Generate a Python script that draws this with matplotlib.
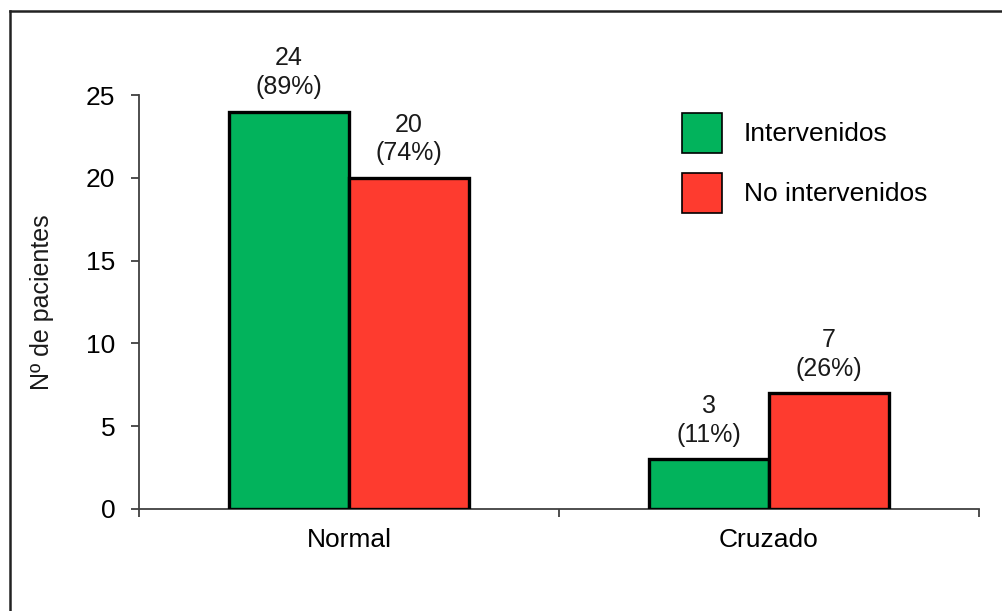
import numpy as np
import matplotlib.pyplot as plt
from matplotlib.lines import Line2D

plt.rcParams['font.family'] = ['Liberation Sans', 'DejaVu Sans']

# Data
categories = ["Normal", "Cruzado"]
series_names = ["Intervenidos", "No intervenidos"]
intervenidos = [24, 3]
no_intervenidos = [20, 7]
pct_intervenidos = ["89%", "11%"]
pct_no_intervenidos = ["74%", "26%"]

colors = ["#02B35C", "#FE3B2F"]

W, H = 1002, 611
fig = plt.figure(figsize=(W / 100, H / 100), dpi=100)
ax = fig.add_axes([139 / W, 1 - 509 / H, (979 - 139) / W, (509 - 95) / H])

x = np.arange(len(categories))
width = 0.286

series = [intervenidos, no_intervenidos]
pcts = [pct_intervenidos, pct_no_intervenidos]
for i, (vals, name) in enumerate(zip(series, series_names)):
    offs = (i - 0.5) * width
    bars = ax.bar(x + offs, vals, width, color=colors[i], edgecolor="black",
                  linewidth=2.4, label=name, zorder=3)
    for b, v, p in zip(bars, vals, pcts[i]):
        ax.annotate(f"{v}\n({p})", (b.get_x() + b.get_width() / 2, v),
                    xytext=(0, 9), textcoords="offset points",
                    ha="center", va="bottom", fontsize=18,
                    linespacing=1.25, color="#1a1a1a")

ax.set_xlim(-0.5, len(categories) - 0.5)
ax.set_ylim(0, 25)
ax.set_yticks([0, 5, 10, 15, 20, 25])

# category labels at centres, tick marks at boundaries
ax.set_xticks(x)
ax.set_xticklabels(categories)
ax.set_xticks(np.arange(-0.5, len(categories), 1.0), minor=True)
ax.tick_params(axis="x", which="major", length=0, pad=14, labelsize=19)
ax.tick_params(axis="x", which="minor", length=6, width=1.3, color="#404040", direction="out")
ax.tick_params(axis="y", length=6, width=1.3, color="#404040", pad=11, labelsize=19)

for s in ["top", "right"]:
    ax.spines[s].set_visible(False)
for s in ["left", "bottom"]:
    ax.spines[s].set_color("#404040")
    ax.spines[s].set_linewidth(1.3)

fig.text(42 / W, 1 - 302 / H, "Nº de pacientes", rotation=90,
         ha="center", va="center", fontsize=18, color="#1a1a1a")

ax.legend(loc="upper left", bbox_to_anchor=(682 / W, 1 - 113 / H),
          bbox_transform=fig.transFigure, frameon=False, fontsize=19,
          handlelength=1.5, handleheight=1.95, handletextpad=0.85,
          labelspacing=0.76, borderpad=0, borderaxespad=0)
for h in ax.get_legend().legend_handles:
    h.set_linewidth(1.2)

# outer frame (top and left edges visible)
fig.add_artist(Line2D([10 / W, 1.0], [1 - 11 / H, 1 - 11 / H],
                      transform=fig.transFigure, color="#222222", linewidth=1.8))
fig.add_artist(Line2D([10 / W, 10 / W], [1 - 11 / H, 0],
                      transform=fig.transFigure, color="#222222", linewidth=1.8))

fig.savefig("out.png", dpi=100)
